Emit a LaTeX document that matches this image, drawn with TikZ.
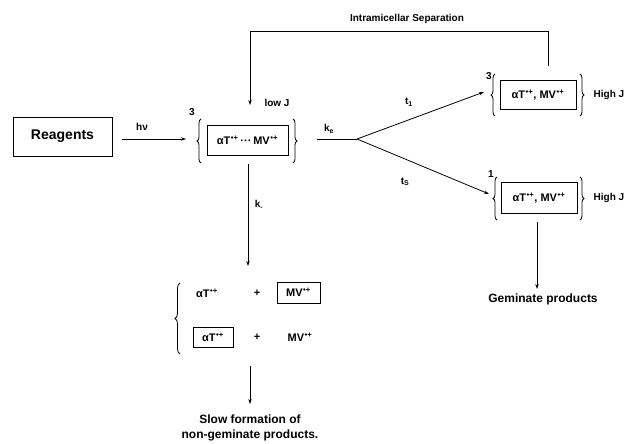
\documentclass[tikz,border=0pt]{standalone}
\usepackage{fontspec}
\setmainfont{Liberation Sans}
\usetikzlibrary{arrows.meta,decorations.pathreplacing}
\newcommand\rad{\textsuperscript{\kern0.6pt•+}}
\begin{document}
\begin{tikzpicture}[x=1pt,y=-1pt,
  line width=0.8pt,
  arr/.style={-{Stealth[length=5pt,width=3.4pt]}},
  lbl/.style={font=\fontsize{10}{12}\selectfont\bfseries, inner sep=0pt},
  big/.style={font=\fontsize{12}{14}\selectfont\bfseries, inner sep=0pt},
  chem/.style={font=\fontsize{11}{13}\selectfont\bfseries, inner sep=0pt},
  cbox/.style={draw, line width=0.9pt, chem, minimum width=76pt, minimum height=29pt},
  brc/.style={decorate, decoration={brace, amplitude=4pt}, line width=0.8pt},
]
\useasboundingbox (0,0) rectangle (627,444);

% Reagents
\node[draw, line width=0.9pt, minimum width=99pt, minimum height=39pt,
      font=\fontsize{14}{16}\selectfont\bfseries] (reag) at (62.5,136.5) {Reagents};
\node[lbl] (hv) at (142,127) {hν};
\coordinate (hvs) at (122,139);
\coordinate (hve) at (186,139);
\draw[arr] (hvs) -- (hve);

% central complex
\node[cbox, minimum width=81pt, minimum height=30pt] (c) at (247.5,140) {αT\rad\,···\,MV\rad};
\draw[brc] (201,163) -- (201,119);
\draw[brc] (293,119) -- (293,163);
\node[lbl] (c3) at (192,112) {3};
\node[lbl] (lowj) at (277,103) {low J};

% k_e and branches
\coordinate (ks) at (317,139);
\coordinate (br) at (357,139);
\draw (ks) -- (br);
\node[lbl] (ke) at (329,129) {k\textsubscript{e}};

% upper right complex
\node[cbox] (u) at (538,95) {αT\rad, MV\rad};
\draw[brc] (495,116) -- (495,74);
\draw[brc] (580,74) -- (580,116);
\node[lbl] (u3) at (489,76) {3};
\node[lbl] (uhj) at (609,95) {High J};

% lower right complex
\node[cbox, minimum height=31pt] (l) at (539,198) {αT\rad, MV\rad};
\draw[brc] (497,220) -- (497,177);
\draw[brc] (580,177) -- (580,220);
\node[lbl] (l1) at (491,174) {1};
\node[lbl] (lhj) at (609,198) {High J};

\coordinate (ut) at (484,92);
\coordinate (lt) at (489,194);
\draw[arr] (br) -- (ut);
\draw[arr] (br) -- (lt);
\node[lbl] (t1) at (409,102) {t\textsubscript{1}};
\node[lbl] (ts) at (405,182) {t\textsubscript{S}};

% intramicellar loop
\coordinate (us) at (548,66);
\coordinate (ur) at (548,31);
\coordinate (ul) at (250,31);
\coordinate (ue) at (250,105);
\draw[arr] (us) -- (ur) -- (ul) -- (ue);
\node[lbl] (sep) at (407,19) {Intramicellar Separation};

% geminate
\coordinate (gs) at (537,222);
\coordinate (ge) at (537,289);
\draw[arr] (gs) -- (ge);
\node[big] (gem) at (543,299) {Geminate products};

% k- down
\coordinate (ds) at (248,164);
\coordinate (de) at (248,266);
\draw[arr] (ds) -- (de);
\node[lbl] (km) at (259,205) {k\textsubscript{-}};

% separated pairs
\draw[brc, decoration={amplitude=5pt}] (180,354) -- (180,283);
\node[chem] (a1) at (207,293) {αT\rad};
\node[chem] (p1) at (257,293) {+};
\node[draw, line width=0.9pt, chem, minimum width=43pt, minimum height=21pt] (m1) at (298.5,292.5) {MV\rad};
\node[draw, line width=0.9pt, chem, minimum width=40pt, minimum height=20pt] (a2) at (213,337) {αT\rad};
\node[chem] (p2) at (257,337) {+};
\node[chem] (m2) at (300,337) {MV\rad};

\coordinate (ss) at (250,366);
\coordinate (se) at (250,404);
\draw[arr] (ss) -- (se);
\node[big] (slow1) at (250,419) {Slow formation of};
\node[big] (slow2) at (250,435) {non-geminate products.};
\end{tikzpicture}
\end{document}
